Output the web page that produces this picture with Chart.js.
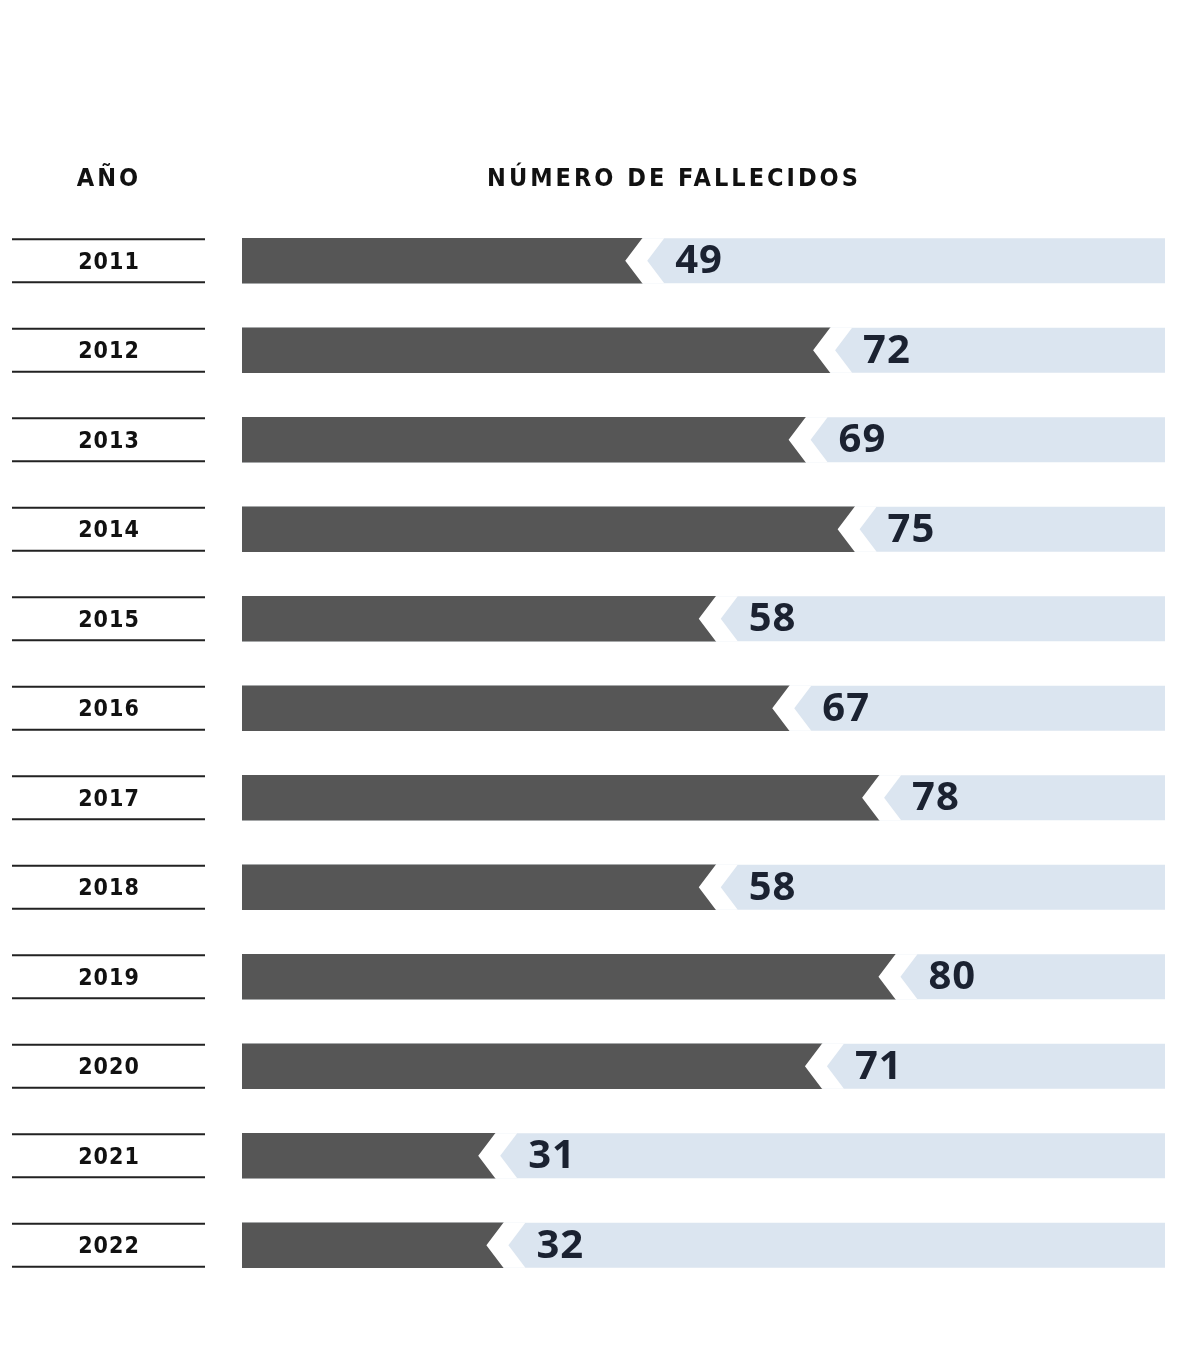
<!DOCTYPE html>
<html>
<head>
<meta charset="utf-8">
<script src="https://cdn.jsdelivr.net/npm/chart.js@4.4.0/dist/chart.umd.min.js"></script>
<style>
    body { margin: 0; background: #fff; }
    #wrap { position: relative; width: 1200px; height: 1349px; }
    .head {
        position: absolute; top: 163px; font-family: "DejaVu Sans Condensed", "DejaVu Sans", sans-serif;
        font-weight: bold; font-size: 25px; letter-spacing: 3px; color: #111; text-align: center;
        transform: translateX(-50%); white-space: nowrap;
    }
</style>
</head>
<body>
<div id="wrap">
    <div class="head" style="left:109px">AÑO</div>
    <div class="head" style="left:674px">NÚMERO DE FALLECIDOS</div>
    <canvas id="myChart" width="1200" height="1349"></canvas>
</div>
<script>
const years = ["2011", "2012", "2013", "2014", "2015", "2016", "2017", "2018", "2019", "2020", "2021", "2022"];
const deaths = [49, 72, 69, 75, 58, 67, 78, 58, 80, 71, 31, 32];
const axisMax = 113;

// track, notch and labels drawn around the library bars
const ribbonPlugin = {
    id: "ribbon",
    beforeDatasetsDraw(chart) {
        const ctx = chart.ctx;
        const area = chart.chartArea;
        ctx.save();
        ctx.fillStyle = "#dbe5f0";
        chart.getDatasetMeta(0).data.forEach((bar) => {
            const h = bar.height;
            ctx.fillRect(bar.base, bar.y - h / 2, area.right - bar.base, h);
        });
        ctx.restore();
    },
    afterDatasetsDraw(chart) {
        const ctx = chart.ctx;
        ctx.save();
        chart.getDatasetMeta(0).data.forEach((bar, i) => {
            const top = bar.y - bar.height / 2;
            const bot = bar.y + bar.height / 2;
            const x = bar.x;
            ctx.fillStyle = "#ffffff";
            ctx.beginPath();
            ctx.moveTo(x, top);
            ctx.lineTo(x - 17, bar.y);
            ctx.lineTo(x, bot);
            ctx.lineTo(x + 22, bot);
            ctx.lineTo(x + 5, bar.y);
            ctx.lineTo(x + 22, top);
            ctx.closePath();
            ctx.fill();

            ctx.fillStyle = "#1b2231";
            ctx.font = "bold 40px 'Open Sans'";
            ctx.letterSpacing = "1px";
            ctx.textAlign = "left";
            ctx.textBaseline = "middle";
            ctx.fillText(deaths[i], x + 33, bar.y + 1);

            // year label with rules
            ctx.strokeStyle = "#222";
            ctx.lineWidth = 2;
            ctx.beginPath();
            ctx.moveTo(12, top + 1);
            ctx.lineTo(205, top + 1);
            ctx.moveTo(12, bot - 1);
            ctx.lineTo(205, bot - 1);
            ctx.stroke();
            ctx.fillStyle = "#111";
            ctx.font = "bold 23px 'DejaVu Sans Condensed', 'DejaVu Sans'";
            ctx.letterSpacing = "1px";
            ctx.textAlign = "center";
            ctx.fillText(years[i], 109, bar.y + 2);
        });
        ctx.restore();
    },
};

const config = {
    type: "bar",
    data: {
        labels: years,
        datasets: [
            {
                label: "Fallecidos",
                data: deaths,
                backgroundColor: "#565656",
                barThickness: 45,
            },
        ],
    },
    options: {
        indexAxis: "y",
        responsive: false,
        animation: false,
        layout: {
            padding: { left: 242, right: 35, top: 216, bottom: 59 },
        },
        plugins: {
            legend: { display: false },
            tooltip: { enabled: false },
        },
        scales: {
            x: {
                min: 0,
                max: axisMax,
                display: false,
            },
            y: {
                display: false,
            },
        },
    },
    plugins: [ribbonPlugin],
};

new Chart(document.getElementById("myChart"), config);
</script>
</body>
</html>
